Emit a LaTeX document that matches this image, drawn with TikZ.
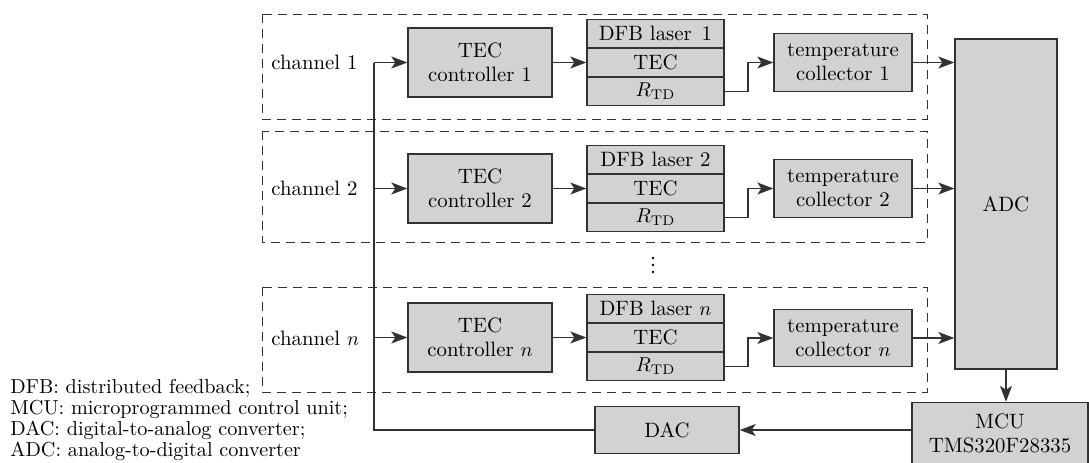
\documentclass[tikz,border=0pt]{standalone}
\usetikzlibrary{arrows.meta}
\definecolor{boxfill}{RGB}{209,210,212}
\definecolor{linecol}{RGB}{50,50,50}
\begin{document}
\begin{tikzpicture}[x=0.5pt,y=-0.5pt,
  font=\fontsize{10.4}{12}\selectfont,
  box/.style={draw=linecol,fill=boxfill,line width=0.7pt,inner sep=0pt,align=center},
  teccbox/.style={box,minimum width=72pt,minimum height=34.5pt},
  dfbrow/.style={box,minimum width=68.5pt,minimum height=14.35pt},
  colbox/.style={box,minimum width=69pt,minimum height=28.75pt},
  chanbox/.style={draw=linecol,line width=0.5pt,dash pattern=on 4.5pt off 3pt},
  conn/.style={draw=linecol,line width=0.6pt},
  arr/.style={conn,-{Stealth[length=8pt,width=6pt,inset=2pt]}},
  chlabel/.style={anchor=west,inner sep=0pt},
  dot/.style={fill=black,draw=none},
  legend/.style={anchor=west,inner sep=0pt,font=\fontsize{10.1}{12}\selectfont}]
\useasboundingbox (0,0) rectangle (1089,462);
% dashed channel frames
\draw[chanbox] (262,14) rectangle (927,119);
\draw[chanbox] (262,131) rectangle (927,242);
\draw[chanbox] (262,287) rectangle (927,392);
% channel 1
\node[chlabel] (ch1) at (271,62) {channel 1};
\node[teccbox] (tec1) at (480,62.5) {TEC\\controller 1};
\node[dfbrow] (dfbA1) at (655.5,33.8) {DFB laser\hspace{5pt}1};
\node[dfbrow] (dfbB1) at (655.5,62.5) {TEC};
\node[dfbrow] (dfbC1) at (655.5,91.2) {$R_{\mathrm{TD}}$};
\node[colbox] (col1) at (843,62.5) {temperature\\collector 1};
% channel 2
\node[chlabel] (ch2) at (271,188) {channel 2};
\node[teccbox] (tec2) at (480,188.5) {TEC\\controller 2};
\node[dfbrow] (dfbA2) at (655.5,159.8) {DFB laser 2};
\node[dfbrow] (dfbB2) at (655.5,188.5) {TEC};
\node[dfbrow] (dfbC2) at (655.5,217.2) {$R_{\mathrm{TD}}$};
\node[colbox] (col2) at (843,188.5) {temperature\\collector 2};
% channel n
\node[chlabel] (chn) at (271,338) {channel $n$};
\node[teccbox] (tecn) at (480,337.5) {TEC\\controller $n$};
\node[dfbrow] (dfbAn) at (655.5,308.8) {DFB laser $n$};
\node[dfbrow] (dfbBn) at (655.5,337.5) {TEC};
\node[dfbrow] (dfbCn) at (655.5,366.2) {$R_{\mathrm{TD}}$};
\node[colbox] (coln) at (843,338) {temperature\\collector $n$};
% vertical dots
\fill[dot] (653,258) circle (1.4);
\fill[dot] (653,265) circle (1.4);
\fill[dot] (653,272) circle (1.4);
% ADC, MCU, DAC
\node[box,minimum width=51pt,minimum height=165pt] (adc) at (1006,204) {ADC};
\node[box,minimum width=88pt,minimum height=31pt] (mcu) at (1000,433.5) {MCU\\TMS320F28335};
\node[box,minimum width=72pt,minimum height=23.5pt] (dac) at (667,430) {DAC};
% feedback bus
\coordinate (fb1) at (374,62.5);
\coordinate (fb2) at (374,188.5);
\coordinate (fbn) at (374,337.5);
\coordinate (fbc) at (374,430);
\draw[conn] (fb1) -- (fbc) -- (dac.west);
\draw[arr] (fb1) -- (tec1.west);
\draw[arr] (fb2) -- (tec2.west);
\draw[arr] (fbn) -- (tecn.west);
% TEC controller -> laser
\draw[arr] (tec1.east) -- (dfbB1.west);
\draw[arr] (tec2.east) -- (dfbB2.west);
\draw[arr] (tecn.east) -- (dfbBn.west);
% RTD -> collector
\draw[arr] (dfbC1.east) -| (748,62.5) -- (col1.west);
\draw[arr] (dfbC2.east) -| (748,188.5) -- (col2.west);
\draw[arr] (dfbCn.east) -| (748,338) -- (coln.west);
% collector -> ADC
\draw[arr] (col1.east) -- (col1.east -| adc.west);
\draw[arr] (col2.east) -- (col2.east -| adc.west);
\draw[arr] (coln.east) -- (coln.east -| adc.west);
% ADC -> MCU -> DAC
\draw[arr] (adc.south) -- (adc.south |- mcu.north);
\draw[arr] (mcu.west |- dac.east) -- (dac.east);
% legend
\node[legend] (lg1) at (10,388) {DFB: distributed feedback;};
\node[legend] (lg2) at (10,409) {MCU: microprogrammed control unit;};
\node[legend] (lg3) at (10,430) {DAC: digital-to-analog converter;};
\node[legend] (lg4) at (10,451) {ADC: analog-to-digital converter};
\end{tikzpicture}
\end{document}
